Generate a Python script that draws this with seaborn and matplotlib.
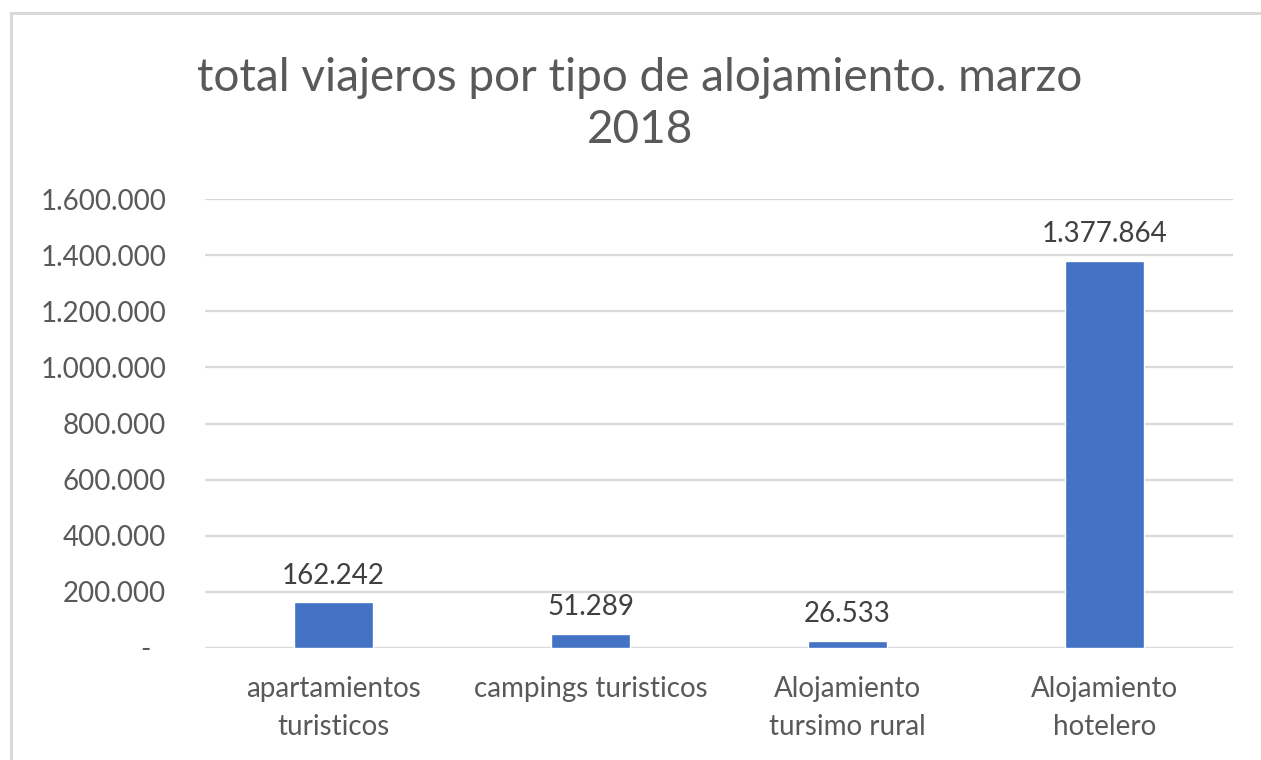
import pandas as pd
import matplotlib
matplotlib.use('Agg')
import matplotlib.pyplot as plt
import matplotlib.ticker as mticker
from matplotlib.patches import Rectangle
import seaborn as sns

categorias = ['apartamientos\nturisticos', 'campings turisticos',
              'Alojamiento\ntursimo rural', 'Alojamiento\nhotelero']
viajeros = [162242, 51289, 26533, 1377864]
titulo = 'total viajeros por tipo de alojamiento. marzo\n2018'


def miles(v):
    return f'{int(round(v)):,}'.replace(',', '.')


def fmt_eje(v, pos):
    if v == 0:
        return '-  '
    return miles(v)


if __name__ == '__main__':

    sns.set_style('white')
    plt.rcParams['font.family'] = ['Lato', 'DejaVu Sans']

    data = pd.DataFrame({'tipo': categorias, 'viajeros': viajeros})

    fig = plt.figure(figsize=(12.61, 7.6), dpi=100)
    ax = fig.add_axes([205 / 1261, 1 - 648 / 760, 1028 / 1261, 449 / 760])

    sns.barplot(data=data, x='tipo', y='viajeros', color='#4472C4',
                width=0.31, saturation=1, ax=ax, zorder=3)

    ax.set_ylim(0, 1600000)
    ax.yaxis.set_major_locator(mticker.MultipleLocator(200000))
    ax.yaxis.set_major_formatter(mticker.FuncFormatter(fmt_eje))
    ax.grid(axis='y', color='#d9d9d9', linewidth=1.6, zorder=0)
    ax.set(xlabel=None, ylabel=None)
    for s in ax.spines.values():
        s.set_visible(False)
    ax.tick_params(axis='y', length=0, pad=28, labelsize=20, labelcolor='#595959')
    ax.tick_params(axis='x', length=0, pad=20, labelsize=20, labelcolor='#595959')
    for lbl in ax.get_xticklabels():
        lbl.set_linespacing(1.6)
        lbl.set_verticalalignment('top')

    # etiquetas de datos
    for i, v in enumerate(viajeros):
        ax.annotate(miles(v), (i, v), xytext=(0, 10), textcoords='offset points',
                    ha='center', va='bottom', fontsize=20, color='#404040')

    fig.text(640 / 1261, 1 - 104 / 760, titulo, ha='center', va='center',
             fontsize=33, color='#595959', linespacing=1.32)

    # borde del grafico
    fig.patches.append(Rectangle((11 / 1261, -0.1), 1.2, 1 - 13 / 760 + 0.1,
                                 transform=fig.transFigure, fill=False,
                                 edgecolor='#d9d9d9', linewidth=2.2))

    fig.savefig('out.png', dpi=100)
